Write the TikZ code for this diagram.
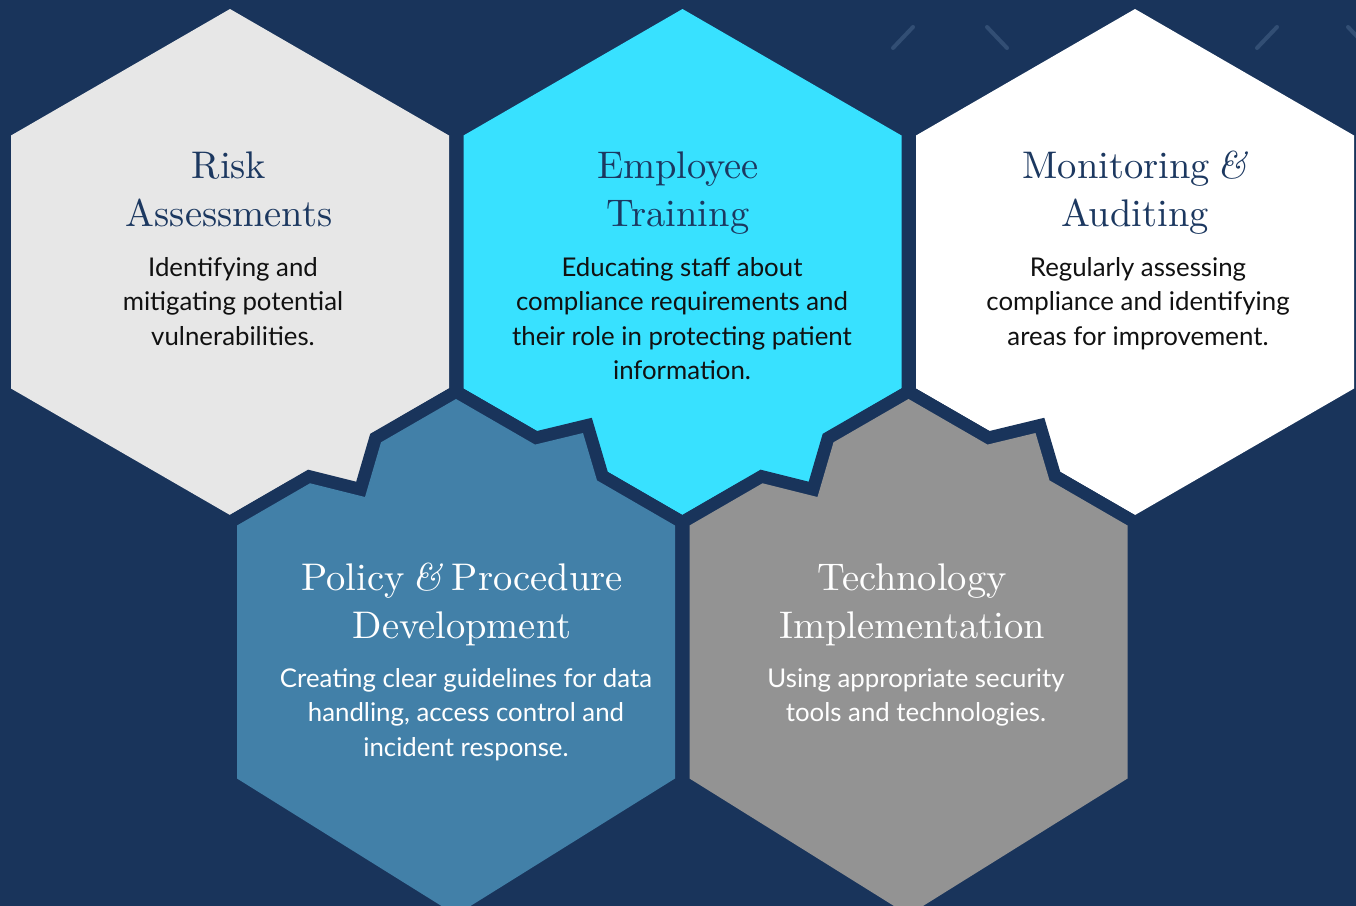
\documentclass[tikz,border=0pt]{standalone}
\usepackage{fontspec}
\newfontfamily\bodyfont{Lato}
\newfontfamily\titlefont{lmroman10-regular}[Extension=.otf, ItalicFont=lmroman10-italic]
\definecolor{bgc}{RGB}{25,52,91}
\definecolor{riskc}{RGB}{231,231,231}
\definecolor{empc}{RGB}{56,225,255}
\definecolor{monc}{RGB}{255,255,255}
\definecolor{polc}{RGB}{66,128,168}
\definecolor{techc}{RGB}{147,147,147}
\definecolor{navy}{RGB}{28,56,96}
\definecolor{bodyc}{RGB}{17,17,17}
\definecolor{slashc}{RGB}{50,78,116}
\newcommand\amp{\kern-5pt{\itshape\&}}
\begin{document}
\begin{tikzpicture}[x=1pt,y=-1pt,
  ttl/.style={anchor=base, inner sep=0pt, font=\titlefont\fontsize{38.5}{46}\selectfont},
  bdy/.style={anchor=base, inner sep=0pt, font=\bodyfont\fontsize{25.8}{34.5}\selectfont},
  gapline/.style={draw=bgc, line width=25.5pt, line join=miter},
  slash/.style={draw=slashc, line width=4pt, line cap=round}]
\useasboundingbox (0,0) rectangle (1356,905);
\clip (0,0) rectangle (1356,905);
\fill[bgc] (-5,-5) rectangle (1361,910);
% background slashes
\draw[slash] (893,48) -- (913,27);
\draw[slash] (987,27) -- (1007,48);
\draw[slash] (1257,48) -- (1277,27);
\draw[slash] (1348,27) -- (1368,48);
% top row
\fill[riskc] (230,9) -- (449,135.5) -- (449,388.5) -- (230,515) -- (11,388.5) -- (11,135.5) -- cycle;
\fill[riskc] (290,494.9) -- (310,483.3) -- (365,497) -- (381,442.3) -- (400,431.3) -- (400,400) -- (290,450) -- cycle;
\fill[empc] (682.5,9) -- (901.5,135.5) -- (901.5,388.5) -- (682.5,515) -- (463.5,388.5) -- (463.5,135.5) -- cycle;
\fill[empc] (742.5,494.9) -- (762.5,483.3) -- (817.5,497) -- (833.5,442.3) -- (852.5,431.3) -- (852.5,400) -- (742.5,450) -- cycle;
\fill[monc] (1135,9) -- (1354,135.5) -- (1354,388.5) -- (1135,515) -- (916,388.5) -- (916,135.5) -- cycle;
% bottom row
\path[gapline] (237,525.5) -- (310,483.3) -- (365,497) -- (381,442.3) -- (456,399) -- (535,444.6) -- (583,433) -- (597,480.4) -- (675,525.5) -- (675,778.5) -- (456,915) -- (237,778.5) -- cycle;
\fill[polc] (237,525.5) -- (310,483.3) -- (365,497) -- (381,442.3) -- (456,399) -- (535,444.6) -- (583,433) -- (597,480.4) -- (675,525.5) -- (675,778.5) -- (456,915) -- (237,778.5) -- cycle;
\path[gapline] (689.5,525.5) -- (762.5,483.3) -- (817.5,497) -- (833.5,442.3) -- (908.5,399) -- (987.5,444.6) -- (1035.5,433) -- (1049.5,480.4) -- (1127.5,525.5) -- (1127.5,778.5) -- (908.5,915) -- (689.5,778.5) -- cycle;
\fill[techc] (689.5,525.5) -- (762.5,483.3) -- (817.5,497) -- (833.5,442.3) -- (908.5,399) -- (987.5,444.6) -- (1035.5,433) -- (1049.5,480.4) -- (1127.5,525.5) -- (1127.5,778.5) -- (908.5,915) -- (689.5,778.5) -- cycle;
% texts: Risk
\node[ttl, text=navy] (rt1) at (229,178) {Risk};
\node[ttl, text=navy] (rt2) at (229,226) {Assessments};
\node[bdy, text=bodyc] (rb1) at (233,276) {Identifying and};
\node[bdy, text=bodyc] (rb2) at (233,310.5) {mitigating potential};
\node[bdy, text=bodyc] (rb3) at (233,345) {vulnerabilities.};
% Employee
\node[ttl, text=navy] (et1) at (678,178) {Employee};
\node[ttl, text=navy] (et2) at (678,226) {Training};
\node[bdy, text=bodyc] (eb1) at (682,276) {Educating staff about};
\node[bdy, text=bodyc] (eb2) at (682,310.5) {compliance requirements and};
\node[bdy, text=bodyc] (eb3) at (682,345) {their role in protecting patient};
\node[bdy, text=bodyc] (eb4) at (682,379.5) {information.};
% Monitoring
\node[ttl, text=navy] (mt1) at (1135,178) {Monitoring \amp};
\node[ttl, text=navy] (mt2) at (1135,226) {Auditing};
\node[bdy, text=bodyc] (mb1) at (1138,276) {Regularly assessing};
\node[bdy, text=bodyc] (mb2) at (1138,310.5) {compliance and identifying};
\node[bdy, text=bodyc] (mb3) at (1138,345) {areas for improvement.};
% Policy
\node[ttl, text=white] (pt1) at (462,590) {Policy \amp\kern-3pt{} Procedure};
\node[ttl, text=white] (pt2) at (462,638.5) {Development};
\node[bdy, text=white] (pb1) at (466,687) {Creating clear guidelines for data};
\node[bdy, text=white] (pb2) at (466,721.5) {handling, access control and};
\node[bdy, text=white] (pb3) at (466,756) {incident response.};
% Technology
\node[ttl, text=white] (tt1) at (912,590) {Technology};
\node[ttl, text=white] (tt2) at (912,638.5) {Implementation};
\node[bdy, text=white] (tb1) at (916,687) {Using appropriate security};
\node[bdy, text=white] (tb2) at (916,721.5) {tools and technologies.};
\end{tikzpicture}
\end{document}
